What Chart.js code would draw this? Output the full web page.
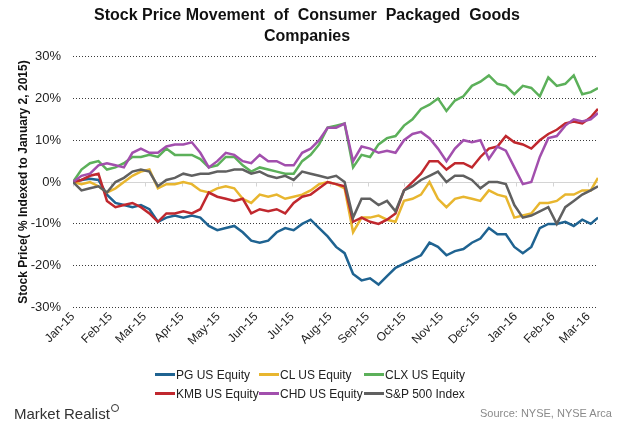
<!DOCTYPE html>
<html>
<head>
<meta charset="utf-8">
<script src="https://cdn.jsdelivr.net/npm/chart.js@4.4.0/dist/chart.umd.min.js"></script>
<style>
  html, body { margin:0; padding:0; background:#fff; }
  #wrap { position:relative; width:620px; height:430px; font-family:"Liberation Sans", Arial, sans-serif; }
  #chart { position:absolute; left:0; top:0; }
  #legend { position:absolute; left:155px; top:365px; display:grid; grid-template-columns:104px 105px auto; grid-auto-rows:19px; font-size:12px; color:#222; }
  #legend .item { display:flex; align-items:center; white-space:nowrap; }
  #legend .swatch { width:20px; height:3px; margin-right:1px; }
  #brand { position:absolute; left:14px; top:405px; font-size:15px; color:#333; }
  #brand .glass { display:inline-block; width:6px; height:6px; border:1.5px solid #333; border-radius:50%; position:relative; top:-7px; margin-left:1px; }
  #source { position:absolute; right:8px; top:407px; font-size:11px; color:#8a8a8a; }
</style>
</head>
<body>
<div id="wrap">
  <canvas id="chart" width="620" height="430"></canvas>
  <div id="legend"></div>
  <div id="brand">Market Realist<span class="glass"></span></div>
  <div id="source">Source: NYSE, NYSE Arca</div>
</div>
<script>
// weekly readings, % change vs Jan 2, 2015 (one point every 7 days from Jan 2015)
const stepDays = 7;
const monthStarts = [0,31,59,90,120,151,181,212,243,273,304,334,365,396,425];
const monthLabels = ['Jan-15','Feb-15','Mar-15','Apr-15','May-15','Jun-15','Jul-15','Aug-15','Sep-15','Oct-15','Nov-15','Dec-15','Jan-16','Feb-16','Mar-16'];
const yTicks = [-30,-20,-10,0,10,20,30];

const seriesNames = ['PG US Equity','CL US Equity','CLX US Equity','KMB US Equity','CHD US Equity','S&P 500 Index'];
const seriesColors = ['#1f6391','#e8b62f','#5cb05a','#c0282e','#a24fad','#606060'];

const pg  = [0,0.5,0.8,0.5,-3,-5,-5.5,-6,-5.5,-6.5,-9.5,-8.5,-8,-8.5,-8,-8.5,-10.5,-11.5,-11,-10.5,-12,-14,-14.5,-14,-12,-11,-11.5,-10,-9,-11,-13,-15.5,-17,-22,-23.5,-23,-24.5,-22.5,-20.5,-19.5,-18.5,-17.5,-14.5,-15.5,-17.5,-16.5,-16,-14.5,-13.5,-11,-12.5,-12.5,-15.5,-17,-15.5,-11,-10,-10,-9.5,-10.5,-9,-10,-8.5];
const cl  = [0,-0.5,0,-1,-2.5,-1.5,0,1.5,2.5,3,-1.5,-0.5,-0.5,0,-0.5,-2,-2.5,-1.5,-1,-1.5,-4,-5,-3,-3.5,-3,-4,-3.5,-3,-2,-0.5,0,-0.5,-1.5,-12,-8.5,-8.5,-8,-9,-9.5,-4.5,-4,-3,0,-4,-6,-4,-3.5,-4,-4.5,-2,-3,-3.5,-8.5,-8,-7.5,-5,-5,-4.5,-3,-3,-2,-2,1];
const clx = [0,3,4.5,5,3,3.5,4.5,6,6,6.5,6,8,6.5,6.5,6.5,5.5,3.5,4,6,6,4,2.5,3.5,3,2.5,2,2,5,6.5,9,13,13.5,14,3.5,6.5,6,9,10.5,11,13.5,15,17.5,18.5,20,17,19.5,20.5,23,24,25.5,23.5,23,21,23,22.5,20.5,25,23,23.5,25.5,21,21.5,22.5];
const kmb = [0,0.5,1.5,2,-4.5,-6,-5.5,-5,-6,-7.5,-9.5,-7.5,-7.5,-7,-7.5,-6.5,-2.5,-3.5,-4,-4.5,-4,-7.5,-6.5,-7,-6.5,-7.5,-5,-3.5,-3,-1.5,0,-0.5,-1,-9.5,-8.5,-9.5,-10,-9,-7.5,-2,0,2,5,5,3,4.5,4.5,3.5,6,8,8.5,11,9.5,9,8,10,11.5,12.5,14,14.5,14,15.5,17.5];
const chd = [0,1.5,2,4,4.5,4,3.5,7,8,7,7,8.5,9,9,9.5,7,3.5,5,7,6.5,5,4.5,6.5,5,5,4,4,7,8,10,13,13,14,5,8.5,8,7,7.5,7,10,11.5,12,10.5,8,5,8,10,9.5,10,5.5,8.5,7.5,3.5,-0.5,0,6,10.5,11,13.5,15,14.5,15,16.5];
const spx = [0,-2,-1.5,-1,-2.5,0,1,2.5,3,2.5,-1,0.5,1,2,1.5,2,2,2.5,2.5,3,3,2,2.5,1.5,1,1.5,0.5,2.5,2,1.5,1,1.5,0,-8.5,-4,-4,-5.5,-4.5,-7,-2,-1,0.5,1.5,2.5,0,1.5,1.5,0.5,-1.5,0,0,-0.5,-5.5,-8.5,-8,-7,-6,-10,-6,-4.5,-3,-2,-1];

const allSeries = [pg, cl, clx, kmb, chd, spx];
const lastDay = 433;

function toPoints(arr){
  return arr.map((v, i) => ({ x: Math.min(i * stepDays, lastDay), y: v }));
}

// zero line and month tick marks, drawn under the lines
const zeroLine = {
  id: 'zeroLine',
  beforeDatasetsDraw(chart){
    const { ctx, chartArea, scales } = chart;
    const y0 = Math.round(scales.y.getPixelForValue(0)) + 0.5;
    ctx.save();
    ctx.strokeStyle = '#d4d4d4';
    ctx.lineWidth = 1;
    ctx.beginPath();
    ctx.moveTo(chartArea.left, y0);
    ctx.lineTo(chartArea.right, y0);
    for (const t of scales.x.ticks) {
      const x = Math.round(scales.x.getPixelForValue(t.value)) + 0.5;
      ctx.moveTo(x, y0);
      ctx.lineTo(x, y0 + 4);
    }
    ctx.stroke();
    ctx.restore();
  }
};

function buildLegend(){
  const el = document.getElementById('legend');
  seriesNames.forEach((name, i) => {
    const item = document.createElement('div');
    item.className = 'item';
    const sw = document.createElement('span');
    sw.className = 'swatch';
    sw.style.background = seriesColors[i];
    const tx = document.createElement('span');
    tx.textContent = name;
    item.appendChild(sw);
    item.appendChild(tx);
    el.appendChild(item);
  });
}

function main(){
  Chart.defaults.font.family = '"Liberation Sans", Arial, sans-serif';
  Chart.defaults.color = '#222';
  const datasets = allSeries.map((arr, i) => ({
    label: seriesNames[i],
    data: toPoints(arr),
    borderColor: seriesColors[i],
    backgroundColor: seriesColors[i],
    borderWidth: 2.5,
    pointRadius: 0,
    tension: 0,
    order: allSeries.length - i
  }));
  new Chart(document.getElementById('chart'), {
    type: 'line',
    data: { datasets },
    plugins: [zeroLine],
    options: {
      responsive: false,
      animation: false,
      layout: { padding: { left: 16, right: 22, top: 0, bottom: 80 } },
      plugins: {
        legend: { display: false },
        tooltip: { enabled: false },
        title: {
          display: true,
          text: ['Stock Price Movement  of  Consumer  Packaged  Goods', 'Companies'],
          color: '#111',
          font: { size: 16, weight: 'bold', lineHeight: 1.3 },
          padding: { top: 5, bottom: 10 }
        }
      },
      scales: {
        x: {
          type: 'linear',
          min: 0,
          max: lastDay,
          afterBuildTicks(scale){ scale.ticks = monthStarts.map(v => ({ value: v })); },
          ticks: {
            autoSkip: false,
            minRotation: 45,
            maxRotation: 45,
            font: { size: 12 },
            padding: 2,
            callback(value, index){ return monthLabels[index]; }
          },
          grid: { display: false, drawTicks: false },
          border: { display: false }
        },
        y: {
          min: -30,
          max: 30,
          afterBuildTicks(scale){ scale.ticks = yTicks.map(v => ({ value: v })); },
          afterFit(scale){ scale.width = 57; },
          ticks: {
            font: { size: 13 },
            padding: 12,
            callback(value){ return value + '%'; }
          },
          grid: {
            drawTicks: false,
            color(ctx){ return ctx.tick && ctx.tick.value === 0 ? 'rgba(0,0,0,0)' : '#3a3a3a'; }
          },
          border: { display: false, dash: [1, 2] },
          title: {
            display: true,
            text: 'Stock Price( % Indexed to January 2, 2015)',
            font: { size: 12, weight: 'bold' },
            color: '#111',
            padding: { top: 0, bottom: 0 }
          }
        }
      }
    }
  });
  buildLegend();
}
document.addEventListener('DOMContentLoaded', main);
</script>
</body>
</html>
